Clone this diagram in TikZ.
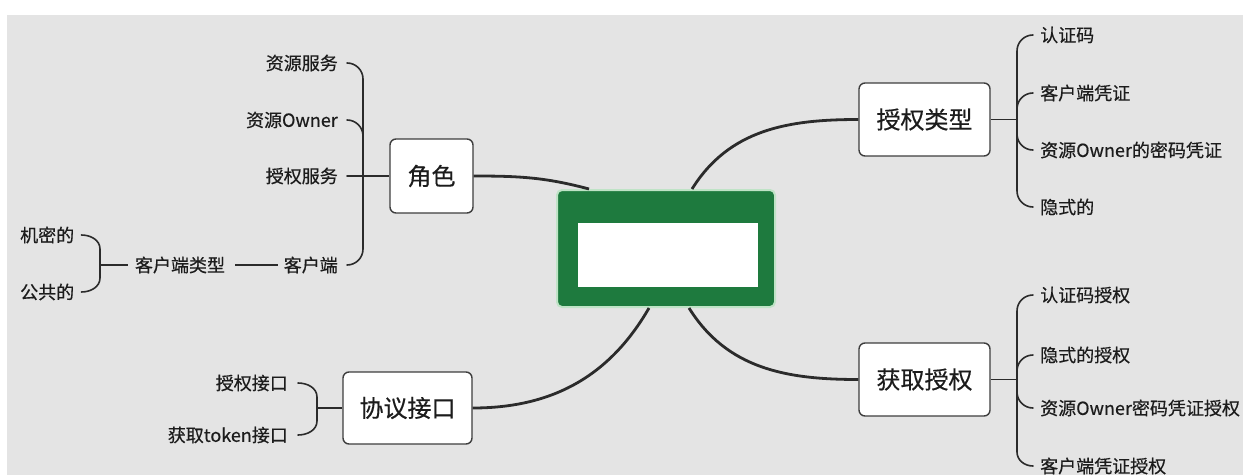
\documentclass[tikz,border=0pt]{standalone}
\usepackage{fontspec}
\setmainfont[FakeBold=0.5]{Noto Sans CJK SC}
\usetikzlibrary{calc}
\definecolor{bgpanel}{HTML}{E4E4E4}
\definecolor{ink}{HTML}{1C1C1C}
\definecolor{lnk}{HTML}{2B2B2B}
\definecolor{rootgreen}{HTML}{1E7A3E}
\definecolor{rootglow}{HTML}{BFE3C6}
\begin{document}
\begin{tikzpicture}[x=1pt,y=1pt,
  topic/.style={draw=ink!85, line width=1.4pt, rounded corners=6pt, fill=white,
    font=\fontsize{24}{28}\selectfont, text=ink, inner sep=0pt},
  leaf/.style={font=\fontsize{18}{20}\selectfont, text=ink, inner sep=0pt},
  mainlink/.style={draw=lnk, line width=2.8pt},
  sublink/.style={draw=lnk, line width=1.8pt},
  bracelink/.style={draw=lnk, line width=1.6pt, line cap=round}]

\useasboundingbox (0,0) rectangle (1252,475);
\fill[white] (0,0) rectangle (1252,475);
\fill[bgpanel] (7,0) rectangle (1243,460);

% root
\node[draw=rootglow, line width=2pt, fill=rootgreen, rounded corners=5pt,
  minimum width=218pt, minimum height=117pt, inner sep=0pt] (root) at (666,226.5) {};
\node[fill=white, minimum width=180pt, minimum height=64pt, inner sep=0pt] (rootlabel) at (668,220) {};

% topics
\node[topic, minimum width=83pt, minimum height=74pt] (role) at (431.5,299) {角色};
\node[topic, minimum width=131pt, minimum height=73pt] (authtype) at (924.5,355.5) {授权类型};
\node[topic, minimum width=131pt, minimum height=73pt] (getauth) at (924.5,95.5) {获取授权};
\node[topic, minimum width=129pt, minimum height=72pt] (proto) at (407.5,67) {协议接口};

% root anchors
\coordinate (rc1) at ($(root.north west)+(33,0)$);
\coordinate (rc2) at ($(root.north west)+(136,0)$);
\coordinate (rc3) at ($(root.south west)+(93,0)$);
\coordinate (rc4) at ($(root.south west)+(133,0)$);

% main links
\draw[mainlink] (role.east) to[out=0,in=165] (rc1);
\draw[mainlink] (rc2) to[out=58,in=180] (authtype.west);
\draw[mainlink] (rc3) to[out=-120,in=0] (proto.east);
\draw[mainlink] (rc4) to[out=-58,in=180] (getauth.west);

% role leaves
\node[leaf, anchor=east] (r1) at (338,412) {资源服务};
\node[leaf, anchor=east] (r2) at (338,355) {资源Owner};
\node[leaf, anchor=east] (r3) at (338,299) {授权服务};
\node[leaf, anchor=east] (r4) at (338,210) {客户端};
\coordinate (jr) at (363,299);
\draw[bracelink] ([xshift=9pt]r1.east) to[out=0,in=90] ($(jr |- r1.east)+(0,-16)$) -- (jr);
\draw[bracelink] ([xshift=9pt]r2.east) to[out=0,in=90] ($(jr |- r2.east)+(0,-16)$) -- (jr);
\draw[bracelink] ([xshift=9pt]r3.east) -- (jr);
\draw[bracelink] ([xshift=9pt]r4.east) to[out=0,in=-90] ($(jr |- r4.east)+(0,16)$) -- (jr);
\draw[sublink] (jr) -- (role.west);

% client type
\node[leaf] (ct) at (180,210) {客户端类型};
\draw[sublink] ([xshift=-6pt]r4.west) -- ([xshift=10pt]ct.east);
\node[leaf, anchor=west] (c1) at (20,240) {机密的};
\node[leaf, anchor=west] (c2) at (20,183) {公共的};
\coordinate (jc) at (100,210);
\draw[bracelink] ([xshift=7pt]c1.east) to[out=0,in=90] ($(jc |- c1.east)+(0,-14)$) -- (jc);
\draw[bracelink] ([xshift=7pt]c2.east) to[out=0,in=-90] ($(jc |- c2.east)+(0,14)$) -- (jc);
\draw[sublink] (jc) -- ([xshift=-7pt]ct.west);

% protocol leaves
\node[leaf, anchor=east] (p1) at (288,92) {授权接口};
\node[leaf, anchor=east] (p2) at (288,40) {获取token接口};
\coordinate (jp) at (317,67);
\draw[bracelink] ([xshift=10pt]p1.east) to[out=0,in=90] ($(jp |- p1.east)+(0,-14)$) -- (jp);
\draw[bracelink] ([xshift=10pt]p2.east) to[out=0,in=-90] ($(jp |- p2.east)+(0,14)$) -- (jp);
\draw[sublink] (jp) -- (proto.west);

% auth type leaves
\node[leaf, anchor=west] (g1) at (1040,440) {认证码};
\node[leaf, anchor=west] (g2) at (1040,382) {客户端凭证};
\node[leaf, anchor=west] (g3) at (1040,325) {资源Owner的密码凭证};
\node[leaf, anchor=west] (g4) at (1040,268) {隐式的};
\coordinate (jg) at (1017,355.5);
\draw[bracelink] ([xshift=-7pt]g1.west) to[out=180,in=90] ($(jg |- g1.west)+(0,-16)$) -- (jg);
\draw[bracelink] ([xshift=-7pt]g2.west) to[out=180,in=90] ($(jg |- g2.west)+(0,-16)$) -- (jg);
\draw[bracelink] ([xshift=-7pt]g3.west) to[out=180,in=-90] ($(jg |- g3.west)+(0,16)$) -- (jg);
\draw[bracelink] ([xshift=-7pt]g4.west) to[out=180,in=-90] ($(jg |- g4.west)+(0,16)$) -- (jg);
\draw[sublink] (authtype.east) -- (jg);

% get auth leaves
\node[leaf, anchor=west] (a1) at (1040,180) {认证码授权};
\node[leaf, anchor=west] (a2) at (1040,120) {隐式的授权};
\node[leaf, anchor=west] (a3) at (1040,67) {资源Owner密码凭证授权};
\node[leaf, anchor=west] (a4) at (1040,9) {客户端凭证授权};
\coordinate (ja) at (1017,95.5);
\draw[bracelink] ([xshift=-7pt]a1.west) to[out=180,in=90] ($(ja |- a1.west)+(0,-16)$) -- (ja);
\draw[bracelink] ([xshift=-7pt]a2.west) to[out=180,in=90] ($(ja |- a2.west)+(0,-16)$) -- (ja);
\draw[bracelink] ([xshift=-7pt]a3.west) to[out=180,in=-90] ($(ja |- a3.west)+(0,16)$) -- (ja);
\draw[bracelink] ([xshift=-7pt]a4.west) to[out=180,in=-90] ($(ja |- a4.west)+(0,14)$) -- (ja);
\draw[sublink] (getauth.east) -- (ja);
\end{tikzpicture}
\end{document}
